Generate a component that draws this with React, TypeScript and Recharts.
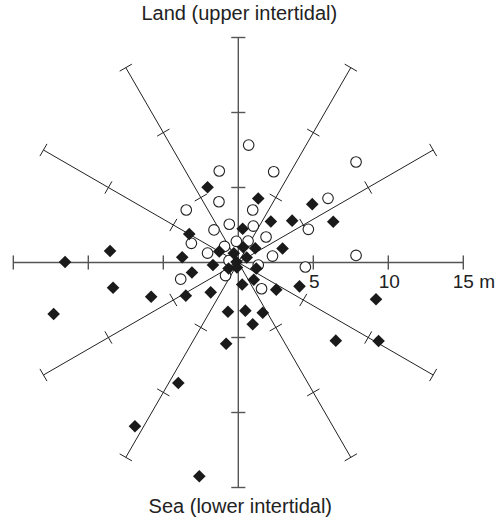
import React from "react";
import {
  ScatterChart,
  Scatter,
  XAxis,
  YAxis,
  ReferenceLine,
  ReferenceDot,
} from "recharts";

// open circles (metres, east/west = x, land/sea = y)
const openX = [0.69, -1.27, 2.36, 7.85, 5.98, -1.29, -3.47, 0.96, 1.0, -0.6, -1.62, 4.67, 1.85, -3.13, -0.13, 0.65, -0.92, -2.05, 2.28, 7.85, 4.47, 1.33, -0.62, -3.84, -0.85, 1.55];
const openY = [7.83, 6.1, 6.05, 6.7, 4.28, 4.05, 3.5, 3.5, 2.43, 2.55, 2.17, 2.21, 1.7, 1.28, 1.41, 1.43, 1.07, 0.63, 0.43, 0.47, -0.3, -0.17, 0.13, -1.11, -0.87, -1.75];

// filled diamonds
const filledX = [-2.05, 1.33, 4.93, 6.33, 2.17, 3.59, 0.29, -3.27, -1.27, 0.33, 1.13, 2.95, -3.74, -0.3, 0.56, -1.69, -0.12, -0.09, -0.65, 1.2, -3.09, 0.26, 1.03, 2.53, 4.08, -5.81, -3.5, -1.84, -0.69, 0.47, 1.63, 0.96, -0.81, 6.5, 9.35, 9.18, -4.0, -6.89, -2.6, -11.55, -8.55, -8.35, -12.31];
const filledY = [5.02, 4.27, 3.89, 2.72, 2.73, 2.79, 2.25, 1.9, 0.73, 1.02, 0.95, 0.93, 0.35, 0.61, 0.33, -0.17, 0.03, -0.33, -0.4, -0.4, -0.67, -1.47, -1.15, -1.81, -1.59, -2.28, -2.21, -1.99, -3.28, -3.21, -3.35, -4.12, -5.42, -5.21, -5.23, -2.45, -8.03, -10.92, -14.25, 0.03, 0.77, -1.68, -3.43];

const spokeAngles = [0, 30, 60, 90, 120, 150, 180, 210, 240, 270, 300, 330];
const tickRadii = [5, 10, 15];
const tickLabels = ["5", "10", "15 m"];
const topLabel = "Land (upper intertidal)";
const bottomLabel = "Sea (lower intertidal)";

const openData = openX.map((x, i) => ({ x, y: openY[i] }));
const filledData = filledX.map((x, i) => ({ x, y: filledY[i] }));

const FONT = "'Liberation Sans', Arial, sans-serif";
const TICK_HALF = 0.47;

const rad = (d: number) => (d * Math.PI) / 180;

function OpenDot(props: any) {
  const { cx, cy } = props;
  if (cx == null || cy == null) return null;
  return <circle cx={cx} cy={cy} r={5.3} fill="#fff" stroke="#222" strokeWidth={1.1} />;
}

function Diamond(props: any) {
  const { cx, cy } = props;
  if (cx == null || cy == null) return null;
  const s = 6.3;
  return (
    <polygon
      points={`${cx},${cy - s} ${cx + s},${cy} ${cx},${cy + s} ${cx - s},${cy}`}
      fill="#1a1a1a"
    />
  );
}

export default function App() {
  return (
    <div style={{ position: "absolute", left: 0, top: 0 }}>
      <ScatterChart width={502} height={521} margin={{ top: 0, right: 0, bottom: 0, left: 0 }}>
        <XAxis type="number" dataKey="x" domain={[-15.887, 17.58]} allowDataOverflow hide />
        <YAxis type="number" dataKey="y" domain={[-17.233, 17.5]} allowDataOverflow hide />

        {spokeAngles.slice(0, 6).map((a) => {
          const main = a === 0 || a === 90;
          return (
            <ReferenceLine
              key={`spoke-${a}`}
              segment={[
                { x: 15 * Math.cos(rad(a)), y: 15 * Math.sin(rad(a)) },
                { x: -15 * Math.cos(rad(a)), y: -15 * Math.sin(rad(a)) },
              ]}
              stroke={main ? "#555" : "#222"}
              strokeWidth={main ? 1.4 : 1}
            />
          );
        })}

        {spokeAngles.flatMap((a) =>
          tickRadii.map((r) => {
            const cx = r * Math.cos(rad(a));
            const cy = r * Math.sin(rad(a));
            const px = -Math.sin(rad(a)) * TICK_HALF;
            const py = Math.cos(rad(a)) * TICK_HALF;
            const main = a % 90 === 0;
            return (
              <ReferenceLine
                key={`tick-${a}-${r}`}
                segment={[
                  { x: cx + px, y: cy + py },
                  { x: cx - px, y: cy - py },
                ]}
                stroke={main ? "#555" : "#222"}
                strokeWidth={main ? 1.4 : 1}
              />
            );
          })
        )}

        <Scatter data={openData} shape={<OpenDot />} isAnimationActive={false} />
        <Scatter data={filledData} shape={<Diamond />} isAnimationActive={false} />

        {tickRadii.map((r, i) => (
          <ReferenceDot
            key={`lab-${r}`}
            x={r}
            y={0}
            r={0}
            shape={(p: any) => {
              const wide = tickLabels[i].includes(" ");
              return (
                <text
                  x={wide ? p.cx - 10.5 : p.cx + 1}
                  y={p.cy + 25}
                  textAnchor={wide ? "start" : "middle"}
                  fontFamily={FONT}
                  fontSize={19}
                  fill="#222"
                >
                  {tickLabels[i]}
                </text>
              );
            }}
          />
        ))}

        <ReferenceDot
          x={0}
          y={17.5}
          r={0}
          ifOverflow="visible"
          shape={(p: any) => (
            <text x={p.cx + 1} y={p.cy + 20} textAnchor="middle" fontFamily={FONT} fontSize={20} fill="#222">
              {topLabel}
            </text>
          )}
        />
        <ReferenceDot
          x={0}
          y={-17.233}
          r={0}
          ifOverflow="visible"
          shape={(p: any) => (
            <text x={p.cx + 2} y={p.cy - 8} textAnchor="middle" fontFamily={FONT} fontSize={20} fill="#222">
              {bottomLabel}
            </text>
          )}
        />
      </ScatterChart>
    </div>
  );
}
